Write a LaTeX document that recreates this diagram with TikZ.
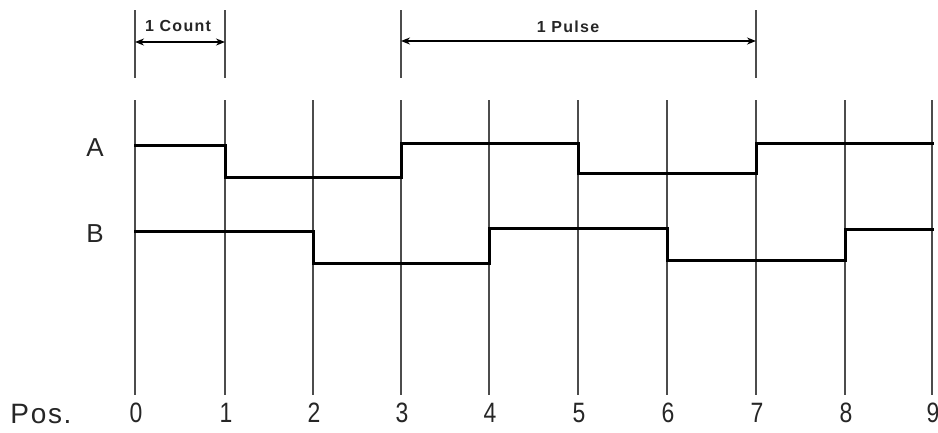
\documentclass[tikz,border=0pt]{standalone}
\usepackage{fontspec}
\setmainfont{Liberation Sans}
\usetikzlibrary{arrows.meta}
\begin{document}
\begin{tikzpicture}[x=1pt,y=-1pt,
  gridline/.style={line width=1.8pt,draw=black!70},
  signal/.style={line width=3pt,black,line cap=rect,line join=miter},
  dimline/.style={line width=1.5pt,{Stealth[length=9pt,width=7pt]}-{Stealth[length=9pt,width=7pt]}},
  chanlabel/.style={font=\fontsize{26}{26}\selectfont,anchor=center,text=black!85},
  poslabel/.style={font=\fontsize{28}{28}\selectfont\addfontfeatures{LetterSpace=6},anchor=center,text=black!85},
  dimlabel/.style={font=\fontsize{16}{16}\selectfont\bfseries\addfontfeatures{LetterSpace=8},anchor=center,text=black!85}]
\useasboundingbox (0,0) rectangle (938,432);
% grid positions with condensed position numbers
\foreach \i/\px in {0/135,1/225,2/313,3/401,4/489,5/578,6/667,7/756,8/845,9/932}{
  \coordinate (t\i) at (\px,100);
  \coordinate (b\i) at (\px,395);
  \draw[gridline] (t\i) -- (b\i);
  \node[poslabel] (n\i) at (\px+1,413) {\scalebox{0.82}[1]{\i}};
}
\node[poslabel] (pos) at (41,414) {Pos.};
% reference ticks for the dimension arrows
\foreach \i/\px in {0/135,1/225,3/401,7/756}{
  \coordinate (mt\i) at (\px,10);
  \coordinate (mb\i) at (\px,78);
  \draw[gridline] (mt\i) -- (mb\i);
}
\coordinate (c0) at (135,42);
\coordinate (c1) at (225,42);
\draw[dimline] (c0) -- (c1);
\node[dimlabel] (count) at (178,26) {1 Count};
\coordinate (p3) at (401,41);
\coordinate (p7) at (756,41);
\draw[dimline] (p3) -- (p7);
\node[dimlabel] (pulse) at (568,27) {1 Pulse};
% channel labels
\node[chanlabel] (la) at (95,148) {A};
\node[chanlabel] (lb) at (95,234) {B};
% channel A
\draw[signal] (135,145) -- (225,145) -- (225,177) -- (401,177) -- (401,143)
  -- (578,143) -- (578,173) -- (756,173) -- (756,143) -- (932,143);
% channel B
\draw[signal] (135,231) -- (313,231) -- (313,263) -- (489,263) -- (489,228)
  -- (667,228) -- (667,260) -- (845,260) -- (845,229) -- (932,229);
\end{tikzpicture}
\end{document}
